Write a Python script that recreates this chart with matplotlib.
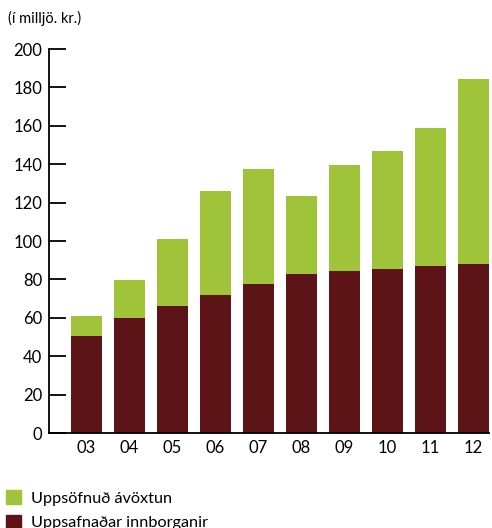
import matplotlib.pyplot as plt
from matplotlib.patches import Patch
import numpy as np

plt.rcParams['font.family'] = ['Lato', 'DejaVu Sans']

years = ['03', '04', '05', '06', '07', '08', '09', '10', '11', '12']
innborganir = [50.5, 60, 66, 72, 77.5, 83, 84.5, 85.5, 87, 88]
totals = [61, 79.5, 101, 126, 137.5, 123.5, 139.5, 147, 159, 184.5]
avoxtun = [t - b for t, b in zip(totals, innborganir)]

green = '#9fc43a'
darkred = '#5c1416'

fig = plt.figure(figsize=(4.92, 5.28), dpi=100)
ax = fig.add_axes([49/492, 1 - 433/528, 440/492, 384/528])

x = np.arange(len(years))
ax.bar(x, innborganir, width=0.72, color=darkred)
ax.bar(x, avoxtun, width=0.72, bottom=innborganir, color=green)

ax.set_xlim(-0.872, 9.36)
ax.set_ylim(0, 200)
ax.set_yticks(range(0, 201, 20))
ax.set_xticks(x)
ax.set_xticklabels(years)

for s in ['top', 'right']:
    ax.spines[s].set_visible(False)
ax.spines['left'].set_linewidth(1.3)
ax.spines['bottom'].set_linewidth(1.3)
ax.tick_params(axis='y', direction='in', length=12, width=1.3, labelsize=12, pad=5)
ax.tick_params(axis='x', length=0, labelsize=12, pad=5)

fig.text(8/492, 1 - 18/528, '(í milljö. kr.)', fontsize=10.5, va='center', ha='left')

handles = [Patch(color=green, label='Uppsöfnuð ávöxtun'),
           Patch(color=darkred, label='Uppsafnaðar innborganir')]
fig.legend(handles=handles, loc='upper left', bbox_to_anchor=(0.0, 1 - 484/528),
           frameon=False, fontsize=11.7, handlelength=0.9, handleheight=0.9,
           handletextpad=0.6, labelspacing=0.55, borderaxespad=0.0)

fig.savefig('out.png', dpi=100)
